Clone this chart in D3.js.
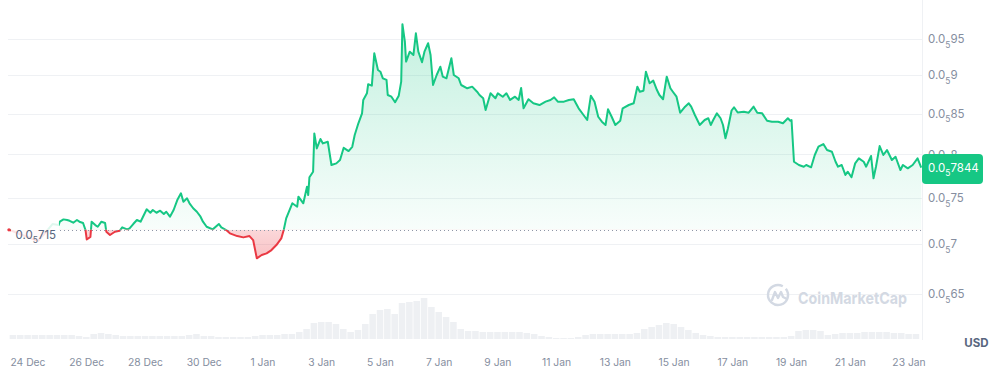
<!DOCTYPE html>
<html><head><meta charset="utf-8">
<script src="https://cdn.jsdelivr.net/npm/d3@7"></script>
<style>html,body{margin:0;padding:0;background:#fff;overflow:hidden}svg{display:block;font-family:Inter,"Noto Sans",sans-serif}</style>
</head><body><svg id="c" width="998" height="370"></svg>
<script>
// hour offsets are counted from 24 Dec 2023 00:00 UTC
const startDateUTC = Date.UTC(2023, 11, 24, 0);
const priceHours = [-15,-7,2,8,14,20,25,26,29,32,34,37,40,42,45,47,48,51,52,55,57,60,63,64,67,71,75,77,81,83,86,89,92,94,97,100,102,105,108,111,113,116,119,122,125,127,130,132,135,138,141,143,146,151,156,158,162,165,171,176,181,184,187,191,195,199,203,207,209,211,216,220,221,225,228,229,230,233,234,236,239,241,245,248,252,255,258,262,265,267,270,273,274,277,278,281,283,286,288,290,293,294,297,300,303,305,306,308,309,312,315,317,319,322,324,327,329,331,334,337,339,342,346,348,352,354,359,363,367,369,372,374,378,382,384,388,391,394,398,401,403,405,409,413,418,423,427,430,433,438,442,446,450,454,457,460,463,466,469,472,474,477,480,484,486,491,495,498,500,503,505,508,511,514,516,519,522,525,527,530,533,537,540,542,545,549,553,556,558,560,563,566,568,570,572,575,577,580,585,589,593,596,600,604,608,613,617,621,623,624,626,630,634,636,640,643,646,650,653,657,660,662,665,668,670,673,676,679,683,685,689,691,693,696,699,702,706,709,713,715,719,723,727,730];
// prices in units of 1e-5 USD (shown as 0.0₅xxxx)
const prices = [.715,.7106,.7063,.7032,.7116,.7212,.7201,.7237,.7262,.7255,
.7247,.7226,.7255,.7237,.7223,.7148,.7049,.7074,.7237,.7201,
.7183,.7237,.7223,.7130,.7095,.7130,.7141,.7176,.7155,.7166,
.7212,.7255,.7237,.7291,.7372,.7334,.7364,.7334,.7356,.7320,
.7345,.7291,.7364,.7474,.7549,.7455,.7493,.7438,.7383,.7345,
.7291,.7237,.7183,.7155,.7212,.7176,.7148,.7113,.7084,.7070,
.7084,.7042,.6853,.6887,.6904,.6938,.6990,.7060,.7148,.7273,
.7438,.7400,.7511,.7438,.7624,.7530,.7731,.7795,.8253,.8071,
.8184,.8131,.8151,.7874,.7893,.7932,.8078,.8039,.8090,.8233,
.8378,.8503,.8674,.8760,.8879,.8860,.9297,.9069,.9046,.8958,
.8936,.8738,.8716,.8644,.8729,.8913,.9708,.9459,.9183,.9320,
.9274,.9578,.9320,.9175,.9320,.9437,.9274,.8869,.9002,.9114,
.8980,.8958,.9229,.9002,.8958,.8869,.8826,.8847,.8781,.8738,
.8696,.8545,.8760,.8696,.8760,.8716,.8760,.8674,.8716,.8674,
.8830,.8567,.8683,.8631,.8609,.8652,.8674,.8708,.8652,.8652,
.8674,.8683,.8567,.8482,.8419,.8729,.8652,.8460,.8398,.8357,
.8554,.8460,.8357,.8410,.8567,.8609,.8631,.8847,.8781,.8794,
.9046,.8892,.8927,.8803,.8738,.8683,.8980,.8826,.8781,.8716,
.8511,.8588,.8631,.8588,.8482,.8357,.8419,.8441,.8357,.8419,
.8503,.8441,.8357,.8193,.8314,.8539,.8580,.8513,.8524,.8511,
.8588,.8511,.8503,.8410,.8398,.8398,.8378,.8441,.8410,.8419,
.7912,.7874,.7854,.7874,.7847,.7992,.8091,.8123,.8051,.8031,
.7912,.7854,.7874,.7758,.7796,.7731,.7893,.7952,.7912,.7854,
.7980,.7720,.7854,.8099,.7992,.8051,.7932,.7971,.7815,.7874,
.7835,.7874,.7952,.7844];
const zeroCount = 5;
const volumeStartHour = -12, volumeStepHours = 6;
const volumes = [4,4,4,4,4,4,4,4,4,3, 2,5,6,5,4,3,3,3,3,3, 3,3,3,3,4,5,3,3,2,2,
 2,2,2,3,4,4,4,5,5,7, 10,16,17,17,15,10,7,9,15,25, 29,30,25,36,37,38,41,32,27,22,
 17,10,8,8,7,7,7,7,7,7, 6,5,3,2,1,1,1,2,4,5, 5,5,5,5,5,6,10,12,14,16,
 15,12,9,6,4,3,2,2,2,2, 2,2,2,2,2,2,3,8,9,9, 8,4,5,6,6,6,7,7,7,7, 6,6,5,5];
const yTicks = [0.65, 0.7, 0.75, 0.8, 0.85, 0.9, 0.95];
const xTicks = ["2023-12-24","2023-12-26","2023-12-28","2023-12-30","2024-01-01","2024-01-03","2024-01-05","2024-01-07","2024-01-09","2024-01-11","2024-01-13","2024-01-15","2024-01-17","2024-01-19","2024-01-21","2024-01-23"];
const currency = "USD";
const brand = "CoinMarketCap";

const GREEN = "#16c784", RED = "#ea3943";
const svg = d3.select("#c");
const H = 3600e3;
const data = priceHours.map((h, i) => ({ t: new Date(startDateUTC + h * H), v: prices[i] }));
const openPrice = prices[0];
const lastPrice = prices[prices.length - 1];

const x = d3.scaleUtc().domain([new Date("2023-12-24T00:00Z"), new Date("2024-01-23T00:00Z")]).range([28, 909]);
const y = d3.scaleLog().domain([0.65, 0.95]).range([293.9, 38.8]);
const yV = d3.scaleLinear().domain([0, 45]).range([339, 294]);
const plotL = 8, plotR = 922;
const yBase = y(openPrice);

const defs = svg.append("defs");
const gG = defs.append("linearGradient").attr("id", "gG").attr("gradientUnits", "userSpaceOnUse")
  .attr("x1", 0).attr("x2", 0).attr("y1", 20).attr("y2", yBase);
gG.append("stop").attr("offset", 0).attr("stop-color", GREEN).attr("stop-opacity", 0.26);
gG.append("stop").attr("offset", 1).attr("stop-color", GREEN).attr("stop-opacity", 0.03);
const gR = defs.append("linearGradient").attr("id", "gR").attr("gradientUnits", "userSpaceOnUse")
  .attr("x1", 0).attr("x2", 0).attr("y1", yBase).attr("y2", 262);
gR.append("stop").attr("offset", 0).attr("stop-color", RED).attr("stop-opacity", 0.2);
gR.append("stop").attr("offset", 1).attr("stop-color", RED).attr("stop-opacity", 0.32);
defs.append("clipPath").attr("id", "above").append("rect").attr("x", 0).attr("y", 0).attr("width", 998).attr("height", yBase);
defs.append("clipPath").attr("id", "below").append("rect").attr("x", 0).attr("y", yBase).attr("width", 998).attr("height", 370 - yBase);

// gridlines
svg.append("g").selectAll("line").data(yTicks).join("line")
  .attr("x1", plotL).attr("x2", plotR).attr("y1", d => Math.round(y(d)) + 0.5).attr("y2", d => Math.round(y(d)) + 0.5)
  .attr("stroke", "#eff1f4").attr("stroke-width", 1);
svg.append("line").attr("x1", plotR + 0.5).attr("x2", plotR + 0.5).attr("y1", 0).attr("y2", 340)
  .attr("stroke", "#eff1f4");

// volume bars
const stepPx = x(new Date(startDateUTC + volumeStepHours * H)) - x(new Date(startDateUTC));
svg.append("g").selectAll("rect").data(volumes).join("rect")
  .attr("x", (d, i) => x(new Date(startDateUTC + (volumeStartHour + i * volumeStepHours) * H)) - stepPx / 2)
  .attr("width", stepPx - 0.8)
  .attr("y", d => yV(d)).attr("height", d => yV(0) - yV(d))
  .attr("fill", "#eef0f3");

// watermark
const wm = svg.append("g").attr("transform", "translate(778,295)").attr("fill", "none").attr("stroke", "#d3d9e3");
wm.append("path").attr("stroke-width", 2.4).attr("d", d3.arc()({ innerRadius: 10, outerRadius: 10, startAngle: 0.9, endAngle: 2 * Math.PI + 0.5 }));
wm.append("path").attr("stroke-width", 2.4).attr("stroke-linejoin", "round").attr("stroke-linecap", "round")
  .attr("d", "M-6,5 L-3,-3 L0,3 L3,-3 L5,2 L9,4");
svg.append("text").attr("x", 798).attr("y", 304).attr("font-size", 16.5).attr("font-weight", 700)
  .attr("fill", "#d3d9e3").attr("textLength", 109).attr("lengthAdjust", "spacingAndGlyphs").text(brand);

// areas
const area = d3.area().x(d => x(d.t)).y0(yBase).y1(d => y(d.v));
const line = d3.line().x(d => x(d.t)).y(d => y(d.v));
svg.append("path").datum(data).attr("d", area).attr("fill", "url(#gG)").attr("clip-path", "url(#above)");
svg.append("path").datum(data).attr("d", area).attr("fill", "url(#gR)").attr("clip-path", "url(#below)");
svg.append("path").datum(data).attr("d", line).attr("fill", "none").attr("stroke", GREEN).attr("stroke-width", 2)
  .attr("stroke-linejoin", "round").attr("clip-path", "url(#above)");
svg.append("path").datum(data).attr("d", line).attr("fill", "none").attr("stroke", RED).attr("stroke-width", 2)
  .attr("stroke-linejoin", "round").attr("clip-path", "url(#below)");

// baseline
svg.append("line").attr("x1", 60).attr("x2", plotR).attr("y1", Math.round(yBase) + 0.5).attr("y2", Math.round(yBase) + 0.5)
  .attr("stroke", "#8e96a6").attr("stroke-width", 1).attr("stroke-dasharray", "1,3");

function priceText(sel, v, subSize, subDy) {
  const digits = (+v.toFixed(4)).toString().split(".")[1];
  sel.append("tspan").text("0.0");
  sel.append("tspan").attr("font-size", subSize).attr("dy", subDy).text(zeroCount);
  sel.append("tspan").attr("dy", -subDy).text(digits);
}

// open price label at left
svg.append("rect").attr("x", 11).attr("y", yBase - 10).attr("width", 48).attr("height", 24).attr("fill", "#fff").attr("opacity", 0.86);
svg.append("circle").attr("cx", 9).attr("cy", yBase).attr("r", 1.7).attr("fill", RED);
svg.append("text").attr("x", 15.5).attr("y", yBase + 9).attr("font-size", 11.5).attr("fill", "#58667e")
  .call(t => priceText(t, openPrice, 8.5, 4));

// y labels
svg.append("g").selectAll("text").data(yTicks).join("text")
  .attr("x", 928).attr("y", d => y(d) + 4.3).attr("font-size", 11.5).attr("fill", "#858ea0")
  .each(function (d) { priceText(d3.select(this), d, 8.5, 4.5); });

// last price tag
const ty = y(lastPrice);
svg.append("rect").attr("x", plotR).attr("y", 154).attr("width", 61).attr("height", 30).attr("rx", 4).attr("fill", GREEN);
svg.append("text").attr("x", 928).attr("y", 171.6).attr("font-size", 11.5).attr("fill", "#fff")
  .call(t => priceText(t, lastPrice, 8.5, 4.5));

// x labels
svg.append("g").selectAll("text").data(xTicks).join("text")
  .attr("x", d => x(new Date(d + "T00:00Z"))).attr("y", 365.7).attr("text-anchor", "middle")
  .attr("font-size", 10.3).attr("fill", "#858ea0")
  .text(d => d3.utcFormat("%-d %b")(new Date(d + "T00:00Z")));

svg.append("text").attr("x", 976.5).attr("y", 347).attr("text-anchor", "middle").attr("font-size", 11.5)
  .attr("font-weight", 700).attr("fill", "#58667e").text(currency);
</script></body></html>
